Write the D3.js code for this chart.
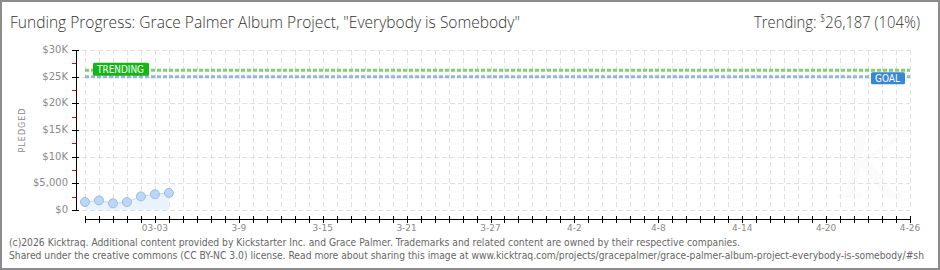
<!DOCTYPE html>
<html>
<head>
<meta charset="utf-8">
<script src="https://cdn.jsdelivr.net/npm/d3@7"></script>
<style>
  html, body { margin: 0; padding: 0; background: #fff; }
  svg { display: block; }
</style>
</head>
<body>
<svg id="chart" width="940" height="270"></svg>
<script>
// Daily pledge totals recorded so far
const pledgeDates = ["2026-02-26", "2026-02-27", "2026-02-28", "2026-03-01", "2026-03-02", "2026-03-03", "2026-03-04"];
const pledgeValues = [1500, 1800, 1250, 1500, 2550, 2950, 3200];

// Campaign window and targets
const campaignStart = "2026-02-26";
const campaignEnd = "2026-04-26";
const goalAmount = 25000;
const trendingAmount = 26187;
const trendingPercent = 104;

// Axis labels
const yTickValues = [0, 5000, 10000, 15000, 20000, 25000, 30000];
const yTickLabels = ["$0", "$5,000", "$10K", "$15K", "$20K", "$25K", "$30K"];
const xLabelDates = ["2026-03-03", "2026-03-09", "2026-03-15", "2026-03-21", "2026-03-27", "2026-04-02", "2026-04-08", "2026-04-14", "2026-04-20", "2026-04-26"];
const xLabelTexts = ["03-03", "3-9", "3-15", "3-21", "3-27", "4-2", "4-8", "4-14", "4-20", "4-26"];

const titleText = "Funding Progress: Grace Palmer Album Project, \"Everybody is Somebody\"";
const footerLines = [
  "(c)2026 Kicktraq. Additional content provided by Kickstarter Inc. and Grace Palmer. Trademarks and related content are owned by their respective companies.",
  "Shared under the creative commons (CC BY-NC 3.0) license. Read more about sharing this image at www.kicktraq.com/projects/gracepalmer/grace-palmer-album-project-everybody-is-somebody/#sh"
];

const parse = d3.utcParse("%Y-%m-%d");
const svg = d3.select("#chart");
const W = 940, H = 270;

const thin = "'Open Sans', 'Noto Sans', sans-serif";
const condensed = "'DejaVu Sans Condensed', 'Liberation Sans Narrow', sans-serif";
const small = "'DejaVu Sans', Verdana, sans-serif";

const x = d3.scaleUtc().domain([parse(campaignStart), parse(campaignEnd)]).range([85, 910]);
const y = d3.scaleLinear().domain([0, 30000]).range([210, 50]);

const days = d3.utcDay.range(parse(campaignStart), d3.utcDay.offset(parse(campaignEnd), 1));

// Background
svg.append("rect").attr("width", W).attr("height", H).attr("fill", "#fff");

// Faint watermark
svg.append("text")
  .attr("x", 872).attr("y", 198)
  .attr("text-anchor", "middle")
  .attr("font-family", "'DejaVu Serif', serif")
  .attr("font-style", "italic")
  .attr("font-size", 92)
  .attr("fill", "#fbfbfb")
  .text("K");

// Grid
const grid = svg.append("g").attr("stroke", "#e2e2e2").attr("stroke-width", 1).attr("stroke-dasharray", "5,3");
grid.selectAll("line.v").data(days).join("line")
  .attr("class", "v")
  .attr("x1", d => Math.round(x(d)) + 0.5).attr("x2", d => Math.round(x(d)) + 0.5)
  .attr("y1", y(30000)).attr("y2", y(0));
grid.selectAll("line.h").data(yTickValues).join("line")
  .attr("class", "h")
  .attr("x1", 82).attr("x2", 910)
  .attr("y1", d => Math.round(y(d)) + 0.5).attr("y2", d => Math.round(y(d)) + 0.5);

// Pledge area, line and points
const pts = pledgeDates.map((d, i) => ({ date: parse(d), value: pledgeValues[i] }));
svg.append("path").datum(pts)
  .attr("fill", "#eaf2fc")
  .attr("d", d3.area().x(d => x(d.date)).y0(y(0)).y1(d => y(d.value)));
svg.append("path").datum(pts)
  .attr("fill", "none").attr("stroke", "#c2d9f3").attr("stroke-width", 1)
  .attr("d", d3.line().x(d => x(d.date)).y(d => y(d.value)));
svg.selectAll("circle.pt").data(pts).join("circle")
  .attr("class", "pt")
  .attr("cx", d => x(d.date)).attr("cy", d => y(d.value)).attr("r", 4.5)
  .attr("fill", "#bcd6f6").attr("stroke", "#98bce6").attr("stroke-width", 1);

// Goal and trending lines
svg.append("line")
  .attr("x1", x(parse(campaignStart))).attr("x2", x(parse(campaignEnd)))
  .attr("y1", y(goalAmount)).attr("y2", y(goalAmount))
  .attr("stroke", "#93b6df").attr("stroke-width", 3).attr("stroke-dasharray", "4,2");
svg.append("line")
  .attr("x1", x(parse(campaignStart))).attr("x2", x(parse(campaignEnd)))
  .attr("y1", y(trendingAmount)).attr("y2", y(trendingAmount))
  .attr("stroke", "#7fd170").attr("stroke-width", 3).attr("stroke-dasharray", "4,2");

// Tag labels
function tag(xl, yc, w, h, fill, label) {
  const g = svg.append("g");
  g.append("rect").attr("x", xl).attr("y", yc - h / 2).attr("width", w).attr("height", h)
    .attr("rx", 1.5).attr("fill", fill);
  g.append("text").attr("x", xl + 4).attr("y", yc + 0.5)
    .attr("dominant-baseline", "middle")
    .attr("font-family", small).attr("font-size", 10.5)
    .attr("textLength", w - 9).attr("lengthAdjust", "spacingAndGlyphs")
    .attr("fill", "#fff").text(label);
}
tag(93, y(trendingAmount) - 1, 56, 13, "#14b514", "TRENDING");
tag(871, y(goalAmount) + 1.5, 34, 12, "#3a86d6", "GOAL");

// Y axis
const yAxis = svg.append("g");
yAxis.append("line").attr("x1", 76.5).attr("x2", 76.5).attr("y1", y(30000)).attr("y2", y(0) + 1)
  .attr("stroke", "#000").attr("stroke-width", 1);
yAxis.selectAll("line.major").data(yTickValues).join("line")
  .attr("class", "major")
  .attr("x1", 72).attr("x2", 79)
  .attr("y1", d => Math.round(y(d)) + 0.5).attr("y2", d => Math.round(y(d)) + 0.5)
  .attr("stroke", "#000");
yAxis.selectAll("line.minor").data(d3.range(2500, 30000, 5000)).join("line")
  .attr("class", "minor")
  .attr("x1", 72).attr("x2", 76)
  .attr("y1", d => Math.round(y(d)) + 0.5).attr("y2", d => Math.round(y(d)) + 0.5)
  .attr("stroke", "#e00000");
yAxis.selectAll("text").data(yTickValues).join("text")
  .attr("x", 68).attr("y", d => y(d))
  .attr("text-anchor", "end").attr("dominant-baseline", "middle")
  .attr("font-family", small).attr("font-size", 10)
  .attr("fill", "#8a8a8a")
  .text((d, i) => yTickLabels[i]);

svg.append("text")
  .attr("transform", "translate(22,130) rotate(-90)")
  .attr("text-anchor", "middle").attr("dominant-baseline", "middle")
  .attr("font-family", small).attr("font-size", 8).attr("letter-spacing", 1)
  .attr("fill", "#8a8a8a")
  .text("PLEDGED");

// X axis
const xAxis = svg.append("g");
xAxis.append("line").attr("x1", x(parse(campaignStart))).attr("x2", x(parse(campaignEnd)))
  .attr("y1", 219.5).attr("y2", 219.5).attr("stroke", "#000");
xAxis.selectAll("line.tk").data(days).join("line")
  .attr("class", "tk")
  .attr("x1", d => Math.round(x(d)) + 0.5).attr("x2", d => Math.round(x(d)) + 0.5)
  .attr("y1", 216).attr("y2", 223)
  .attr("stroke", "#000");
xAxis.selectAll("text").data(xLabelDates).join("text")
  .attr("x", d => x(parse(d))).attr("y", 231)
  .attr("text-anchor", "middle")
  .attr("font-family", small).attr("font-size", 9)
  .attr("fill", "#8a8a8a")
  .text((d, i) => xLabelTexts[i]);

// Title and trending summary
svg.append("text")
  .attr("x", 10).attr("y", 28)
  .attr("font-family", thin).attr("font-size", 17).attr("font-weight", 300)
  .attr("fill", "#333")
  .attr("textLength", 510).attr("lengthAdjust", "spacingAndGlyphs")
  .text(titleText);

const trend = svg.append("text")
  .attr("x", 920).attr("y", 28)
  .attr("font-family", thin).attr("font-size", 17).attr("font-weight", 300)
  .attr("fill", "#333");
trend.append("tspan").text("Trending:   ");
trend.append("tspan").attr("font-size", 10).attr("dy", -6).text("$");
trend.append("tspan").attr("dy", 6).text(d3.format(",")(trendingAmount) + " (" + trendingPercent + "%)");
// Squeeze the summary to a condensed width, right-aligned at x = 920
const tw = trend.node().getComputedTextLength();
const targetW = 166;
trend.attr("transform", `translate(${920 - targetW},0) scale(${targetW / tw},1) translate(${-920},0)`);

// Footer
svg.selectAll("text.footer").data(footerLines).join("text")
  .attr("class", "footer")
  .attr("x", 9).attr("y", (d, i) => 246 + i * 13)
  .attr("font-family", condensed).attr("font-size", (d, i) => i === 0 ? 10.6 : 10.2)
  .attr("fill", "#666")
  .attr("textLength", (d, i) => i === 0 ? 731 : 915)
  .attr("lengthAdjust", "spacingAndGlyphs")
  .text(d => d);

// Frame
svg.append("rect").attr("x", 1).attr("y", 1).attr("width", W - 2).attr("height", H - 2)
  .attr("fill", "none").attr("stroke", "#8c8c8c").attr("stroke-width", 2);
</script>
</body>
</html>
